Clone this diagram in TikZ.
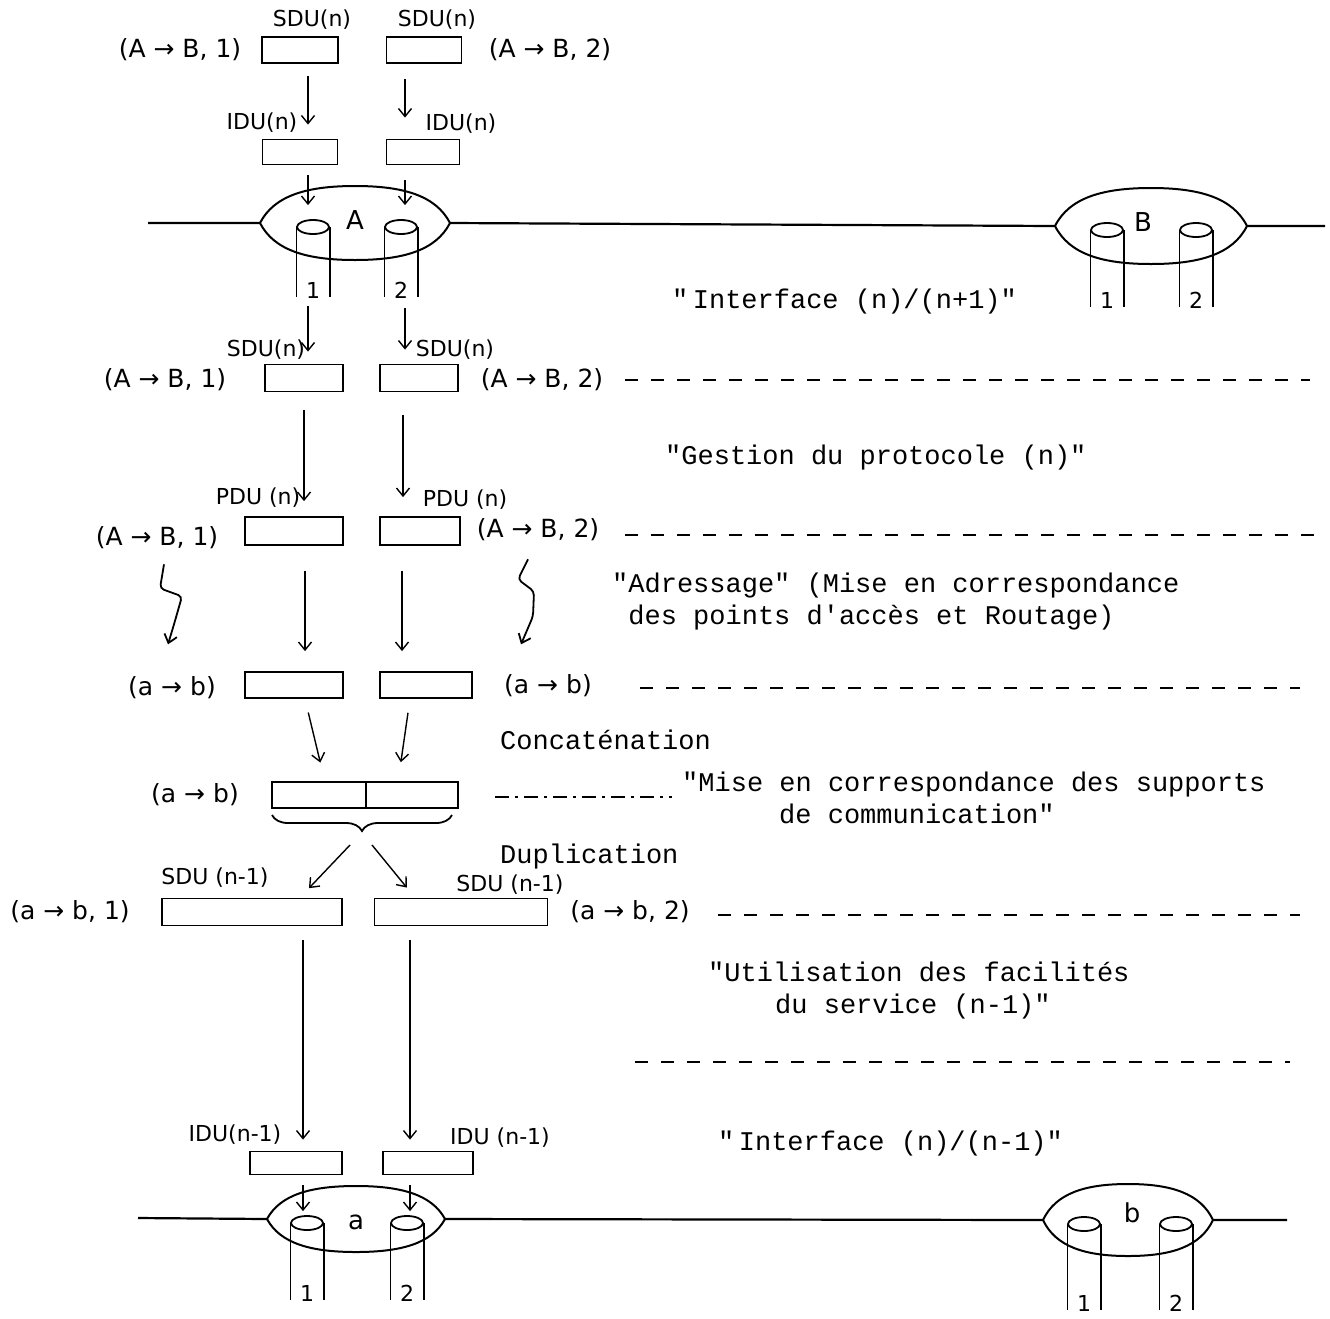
\documentclass[tikz,border=0pt]{standalone}
\usepackage{fontspec}
\setmonofont{Liberation Mono}
\newfontfamily\handfont{DejaVu Sans}
\usetikzlibrary{positioning, arrows.meta, calc, shapes.geometric, decorations.pathreplacing}

\begin{document}
\begin{tikzpicture}[
    x=1pt, y=-1pt,
    % Block Styles
    unit/.style={rectangle, draw, line width=1.8pt, inner sep=0pt, minimum height=26pt},
    sapcap/.style={ellipse, draw, line width=1.8pt, inner sep=0pt, minimum width=32pt, minimum height=14pt},
    % Text Styles
    typed/.style={font=\fontsize{27}{32}\selectfont\ttfamily, inner sep=0pt, align=left, anchor=west},
    addr/.style={font=\fontsize{25}{28}\selectfont\handfont, inner sep=0pt},
    duname/.style={font=\fontsize{22}{24}\selectfont\handfont, inner sep=0pt},
    port/.style={font=\fontsize{22}{22}\selectfont\handfont, inner sep=1pt},
    % Line & Arrow Styles
    flow/.style={draw, -{Straight Barb[length=8pt, width=13pt]}, line width=1.4pt, shorten <=12pt, shorten >=12pt},
    sep/.style={draw, line width=1.6pt, dash pattern=on 13pt off 13pt},
    link/.style={draw, line width=2.2pt},
    lens/.style={draw, line width=2pt}
]
    \useasboundingbox (0,0) rectangle (1330,1318);

    % Hosts: lens, label and the two access points
    \foreach \h/\x/\y/\rx/\ry/\dl/\dr/\len/\lx/\ly in {A/355/223/95/37/42/46/70/0/-3, B/1151/226/96/38/44/45/77/-8/-4, a/356/1219/89/33/49/51/77/0/3, b/1128/1220/85/36/44/48/86/4/-7} {
      \begin{scope}[shift={(\x,\y)}]
        \draw[lens] (-\rx,0) .. controls ({-0.85*\rx},{-0.75*\ry}) and ({-0.5*\rx},-\ry) .. (0,-\ry)
          .. controls ({0.5*\rx},-\ry) and ({0.85*\rx},{-0.75*\ry}) .. (\rx,0)
          .. controls ({0.85*\rx},{0.75*\ry}) and ({0.5*\rx},\ry) .. (0,\ry)
          .. controls ({-0.5*\rx},\ry) and ({-0.85*\rx},{0.75*\ry}) .. cycle;
        \coordinate (\h-w) at (-\rx,0);
        \coordinate (\h-e) at (\rx,0);
        \node[addr, font=\fontsize{26}{28}\selectfont\handfont] (host\h) at (\lx,\ly) {\h};
        \node[sapcap] (cap\h1) at (-\dl,4) {};
        \node[sapcap] (cap\h2) at (\dr,4) {};
        \draw[line width=1.2pt] (cap\h1.west) -- ++(0,\len) (cap\h1.east) -- ++(0,\len)
          (cap\h2.west) -- ++(0,\len) (cap\h2.east) -- ++(0,\len);
        \node[port] (port\h1) at (-\dl,{\len-3}) {1};
        \node[port] (port\h2) at (\dr,{\len-3}) {2};
      \end{scope}
    }

    % Subnetwork lines
    \coordinate (topL) at (148,223);
    \coordinate (topR) at (1325,226);
    \coordinate (botL) at (138,1218);
    \coordinate (botR) at (1287,1220);
    \draw[link] (topL) -- (A-w) (A-e) -- (B-w) (B-e) -- (topR);
    \draw[link] (botL) -- (a-w) (a-e) -- (b-w) (b-e) -- (botR);

    % Layer (n+1) side
    \node[unit, minimum width=76pt] (sduA1) at (300,50) {};
    \node[unit, minimum width=75pt] (sduA2) at (424,50) {};
    \node[duname] at (312,20) {SDU(n)};
    \node[duname] at (437,20) {SDU(n)};
    \node[addr] (addrA1) at (180,50) {(A → B, 1)};
    \node[addr] (addrA2) at (550,50) {(A → B, 2)};
    \node[unit, minimum width=75pt, minimum height=25pt] (iduA1) at (300,152) {};
    \node[unit, minimum width=73pt, minimum height=25pt] (iduA2) at (423,152) {};
    \node[duname] at (262,123) {IDU(n)};
    \node[duname] at (461,124) {IDU(n)};

    \draw[flow, shorten >=14pt] ([xshift=8pt]sduA1.south) -- ([xshift=8pt]iduA1.north);
    \draw[flow, shorten <=15pt, shorten >=21pt] ([xshift=-19pt]sduA2.south) -- ([xshift=-18pt]iduA2.north);
    \draw[flow, shorten <=10pt, shorten >=14pt] ([xshift=8pt]iduA1.south) -- ([xshift=-5pt]capA1.north);
    \draw[flow, shorten <=15pt, shorten >=14pt] ([xshift=-18pt]iduA2.south) -- ([xshift=4pt]capA2.north);

    % Layer (n) entities
    \node[unit, minimum width=78pt, minimum height=27pt] (sdu1) at (304,378) {};
    \node[unit, minimum width=78pt, minimum height=27pt] (sdu2) at (419,378) {};
    \node[duname] at (266,350) {SDU(n)};
    \node[duname] at (455,350) {SDU(n)};
    \node[addr] (addrS1) at (165,380) {(A → B, 1)};
    \node[addr] (addrS2) at (542,380) {(A → B, 2)};

    \draw[flow, shorten <=7pt] ([xshift=-5pt]portA1.south) -- ([xshift=4pt]sdu1.north);
    \draw[flow, shorten <=9pt, shorten >=14pt] ([xshift=4pt]portA2.south) -- ([xshift=-14pt]sdu2.north);

    \node[unit, minimum width=98pt, minimum height=28pt] (pdu1) at (294,531) {};
    \node[unit, minimum width=80pt, minimum height=28pt] (pdu2) at (420,531) {};
    \node[duname] at (258,498) {PDU (n)};
    \node[duname] at (465,500) {PDU (n)};
    \node[addr] (addrP1) at (157,538) {(A → B, 1)};
    \node[addr] (addrP2) at (538,530) {(A → B, 2)};

    \draw[flow, shorten <=18pt, shorten >=15pt] (sdu1.south) -- ([xshift=10pt]pdu1.north);
    \draw[flow, shorten <=23pt, shorten >=19pt] ([xshift=-16pt]sdu2.south) -- ([xshift=-17pt]pdu2.north);

    \node[unit, minimum width=98pt] (adr1) at (294,685) {};
    \node[unit, minimum width=92pt] (adr2) at (426,685) {};
    \node[addr] (addrR1) at (172,688) {(a → b)};
    \node[addr] (addrR2) at (548,686) {(a → b)};

    \draw[flow, shorten <=25pt, shorten >=20pt] ([xshift=11pt]pdu1.south) -- ([xshift=11pt]adr1.north);
    \draw[flow, shorten <=25pt, shorten >=20pt] ([xshift=-18pt]pdu2.south) -- ([xshift=-24pt]adr2.north);
    \draw[flow, line width=1.8pt, shorten <=0pt, shorten >=0pt, rounded corners=4pt] ([xshift=7pt, yshift=-15pt]addrP1.south)
      -- ++(-4,24) -- ++(22,8) -- ++(-8,28) -- ++(-6,20);
    \draw[flow, line width=1.8pt, shorten <=0pt, shorten >=0pt, rounded corners=4pt] ([xshift=-10pt, yshift=-18pt]addrP2.south)
      -- ++(-10,20) -- ++(16,12) -- ++(-1,25) -- ++(-12,28);

    % Concatenation
    \node[unit, outer sep=0pt, minimum width=94pt] (cat1) at (319,795) {};
    \node[unit, outer sep=0pt, minimum width=92pt, right=0pt of cat1] (cat2) {};
    \node[addr] (addrC) at (195,795) {(a → b)};
    \draw[flow, shorten <=14pt, shorten >=20pt] ([xshift=11pt]adr1.south) -- ([xshift=6pt]cat1.north);
    \draw[flow, shorten <=14pt, shorten >=20pt] ([xshift=-16pt]adr2.south) -- ([xshift=-14pt]cat2.north);
    \draw[line width=1.8pt, decorate, decoration={brace, mirror, amplitude=16pt}]
      ([yshift=-7pt]cat1.south west) -- ([xshift=-6pt, yshift=-7pt]cat2.south east);
    \coordinate (bracetip) at (362,840);

    % Duplication
    \node[unit, minimum width=180pt, minimum height=27pt] (dup1) at (252,912) {};
    \node[unit, minimum width=173pt, minimum height=27pt] (dup2) at (461,912) {};
    \node[duname] at (215,878) {SDU (n-1)};
    \node[duname] at (510,885) {SDU (n-1)};
    \node[addr] (addrD1) at (70,912) {(a → b, 1)};
    \node[addr] (addrD2) at (630,912) {(a → b, 2)};
    \draw[flow, shorten <=0pt, shorten >=13pt] ([xshift=-12pt, yshift=-5pt]bracetip) -- ([xshift=48pt]dup1.north);
    \draw[flow, shorten <=0pt, shorten >=13pt] ([xshift=10pt, yshift=-5pt]bracetip) -- ([xshift=-46pt]dup2.north);

    % Layer (n-1) side
    \node[unit, minimum width=92pt, minimum height=23pt] (iduB1) at (296,1163) {};
    \node[unit, minimum width=90pt, minimum height=23pt] (iduB2) at (428,1163) {};
    \node[duname] at (235,1135) {IDU(n-1)};
    \node[duname] at (500,1138) {IDU (n-1)};
    \draw[flow, shorten <=14pt, shorten >=11pt] ([xshift=51pt]dup1.south) -- ([xshift=7pt]iduB1.north);
    \draw[flow, shorten <=14pt, shorten >=11pt] ([xshift=-51pt]dup2.south) -- ([xshift=-18pt]iduB2.north);
    \draw[flow, shorten <=10pt, shorten >=4pt] ([xshift=7pt]iduB1.south) -- ([xshift=-4pt]capa1.north);
    \draw[flow, shorten <=10pt, shorten >=4pt] ([xshift=-18pt]iduB2.south) -- ([xshift=3pt]capa2.north);

    % Functions and boundaries
    \node[typed] (itfUp) at (672,302) {"\,Interface (n)/(n+1)"};
    \draw[sep] (625,380) -- (1310,380);
    \node[typed] (gestion) at (665,458) {"Gestion du protocole (n)"};
    \draw[sep] (625,535) -- (1320,535);
    \node[typed] (adressage) at (612,602) {"Adressage" (Mise en correspondance\\\phantom{"}des points d'accès et Routage)};
    \draw[sep] (640,688) -- (1300,688);
    \node[typed] (concat) at (500,740) {Concaténation};
    \draw[line width=1.6pt, dash pattern=on 14pt off 6pt on 3pt off 6pt] (495,797) -- (672,797);
    \node[typed] (supports) at (682,798) {"Mise en correspondance des supports\\\hspace*{97pt}de communication"};
    \node[typed] (duplic) at (500,857) {Duplication};
    \draw[sep] (718,915) -- (1300,915);
    \node[typed] (utilis) at (708,991) {"Utilisation des facilités\\\hspace*{67pt}du service (n-1)"};
    \draw[sep] (635,1062) -- (1290,1062);
    \node[typed] (itfDown) at (718,1143) {"\,Interface (n)/(n-1)"};

\end{tikzpicture}
\end{document}
